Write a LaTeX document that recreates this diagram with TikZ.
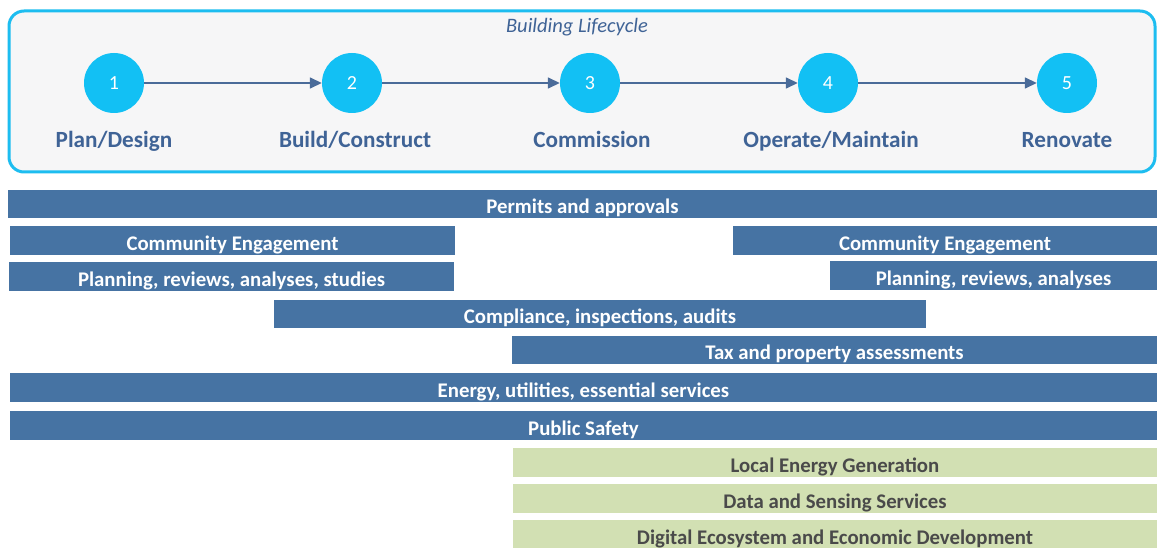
\documentclass[tikz,border=0pt]{standalone}
\usepackage{fontspec}
\setmainfont{Carlito}
\usetikzlibrary{arrows.meta}
\definecolor{barblue}{HTML}{4673A3}
\definecolor{lblue}{HTML}{3F6396}
\definecolor{cyanc}{HTML}{12C0F4}
\definecolor{cyanb}{HTML}{1DBDF0}
\definecolor{boxbg}{HTML}{F6F6F7}
\definecolor{greenbar}{HTML}{D2E0B3}
\definecolor{greentext}{HTML}{4A4A4A}
\definecolor{arrowc}{HTML}{4A6B99}
\tikzset{
  stage/.style={circle, fill=cyanc, minimum size=60pt, inner sep=0pt, text=white, font=\fontsize{20}{22}\selectfont},
  stagelabel/.style={text=lblue, anchor=base, font=\bfseries\fontsize{23.2}{26}\selectfont},
  barbase/.style={inner sep=0pt, minimum height=28.5pt, text height=19.5pt, text depth=0pt, font=\bfseries\fontsize{20.8}{23}\selectfont},
  bluebar/.style={barbase, fill=barblue, text=white},
  greenbarst/.style={barbase, fill=greenbar, text=greentext},
  flow/.style={arrowc, line width=1.5pt, -{Triangle[length=12pt,width=11pt]}}
}
\begin{document}
\begin{tikzpicture}[x=1pt,y=-1pt]
\useasboundingbox (0,0) rectangle (1157,548);
\fill[white] (0,0) rectangle (1157,548);
% lifecycle frame
\node[draw=cyanb, line width=3pt, fill=boxbg, rounded corners=15pt, minimum width=1146pt, minimum height=161pt, inner sep=0pt] (frame) at (582,91.5) {};
\node[text=lblue, anchor=base, font=\itshape\fontsize{20.5}{23}\selectfont] (title) at (577,33) {Building Lifecycle};
\node[stage] (s1) at (114,83) {1};
\node[stage] (s2) at (352,83) {2};
\node[stage] (s3) at (590,83) {3};
\node[stage] (s4) at (828,83) {4};
\node[stage] (s5) at (1067,83) {5};
\draw[flow] (s1) -- (s2);
\draw[flow] (s2) -- (s3);
\draw[flow] (s3) -- (s4);
\draw[flow] (s4) -- (s5);
\node[stagelabel] (l1) at (114,147.7) {Plan/Design};
\node[stagelabel] (l2) at (355,147.7) {Build/Construct};
\node[stagelabel] (l3) at (592,147.7) {Commission};
\node[stagelabel] (l4) at (831,147.7) {Operate/Maintain};
\node[stagelabel] (l5) at (1067,147.7) {Renovate};
% blue bars
\node[bluebar, minimum width=1149pt] (b1) at (582.5,204) {Permits and approvals};
\node[bluebar, minimum width=445pt] (b2) at (232.5,240.5) {Community Engagement};
\node[bluebar, minimum width=424pt] (b3) at (945,240.5) {Community Engagement};
\node[bluebar, minimum width=445pt] (b4) at (231.5,276.5) {Planning, reviews, analyses, studies};
\node[bluebar, minimum width=327pt] (b5) at (993.5,275.5) {Planning, reviews, analyses};
\node[bluebar, minimum width=652pt] (b6) at (600,314) {Compliance, inspections, audits};
\node[bluebar, minimum width=645pt] (b7) at (834.5,350) {Tax and property assessments};
\node[bluebar, minimum width=1147pt] (b8) at (583.5,387.5) {Energy, utilities, essential services};
\node[bluebar, minimum width=1147pt] (b9) at (583.5,425.5) {Public Safety};
% green bars
\node[greenbarst, minimum width=644pt] (g1) at (835,462.5) {Local Energy Generation};
\node[greenbarst, minimum width=644pt] (g2) at (835,498.5) {Data and Sensing Services};
\node[greenbarst, minimum width=644pt] (g3) at (835,534.5) {Digital Ecosystem and Economic Development};
\end{tikzpicture}
\end{document}
